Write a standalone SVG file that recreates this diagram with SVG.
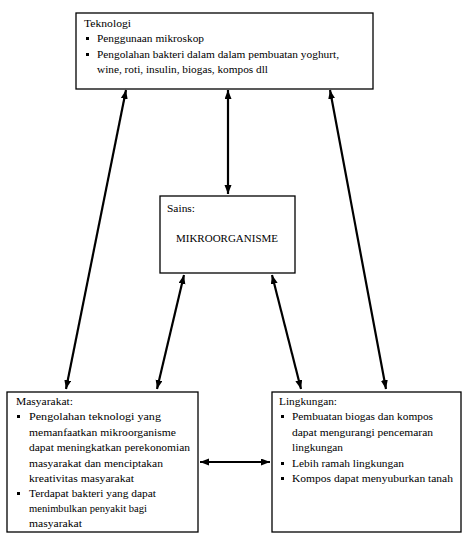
<svg xmlns="http://www.w3.org/2000/svg" width="473" height="552" viewBox="0 0 473 552">
<style>
.box{fill:#fff;stroke:#000;stroke-width:1.3}
text{font-family:"Liberation Serif","Times New Roman",serif;font-size:11px;fill:#000}
.c{stroke:#000;stroke-width:2.2;fill:none;marker-start:url(#ah);marker-end:url(#ah)}
.b{fill:#000}
</style>
<defs>
<marker id="ah" markerUnits="userSpaceOnUse" markerWidth="10" markerHeight="8" refX="9" refY="3.5" orient="auto-start-reverse">
<path d="M0,0 L9,3.5 L0,7 z" fill="#000"/>
</marker>
</defs>
<rect width="473" height="552" fill="#fff"/>
<g id="connectors">
<line class="c" x1="126" y1="90" x2="66" y2="389"/>
<line class="c" x1="228" y1="90" x2="228" y2="194"/>
<line class="c" x1="330" y1="90" x2="386" y2="389"/>
<line class="c" x1="184" y1="275" x2="157" y2="389"/>
<line class="c" x1="272" y1="275" x2="301" y2="389"/>
<line class="c" x1="200" y1="462" x2="270" y2="462"/>
</g>
<g id="teknologi">
<rect class="box" x="76" y="13" width="297" height="76"/>
<text x="84" y="27" textLength="47" lengthAdjust="spacingAndGlyphs">Teknologi</text>
<rect class="b" x="86" y="37" width="3" height="3"/>
<text x="97" y="42" textLength="107" lengthAdjust="spacingAndGlyphs">Penggunaan mikroskop</text>
<rect class="b" x="86" y="53" width="3" height="3"/>
<text x="97" y="58" textLength="242" lengthAdjust="spacingAndGlyphs">Pengolahan bakteri dalam dalam pembuatan yoghurt,</text>
<text x="97" y="73" textLength="171" lengthAdjust="spacingAndGlyphs">wine, roti, insulin, biogas, kompos dll</text>
</g>
<g id="sains">
<rect class="box" x="160" y="196" width="135" height="77"/>
<text x="167" y="212" textLength="28" lengthAdjust="spacingAndGlyphs">Sains:</text>
<text x="176" y="242" textLength="102" lengthAdjust="spacingAndGlyphs">MIKROORGANISME</text>
</g>
<g id="masyarakat">
<rect class="box" x="7" y="392" width="191" height="140"/>
<text x="16" y="405" textLength="57" lengthAdjust="spacingAndGlyphs">Masyarakat:</text>
<rect class="b" x="17" y="415" width="3" height="3"/>
<text x="29" y="420" textLength="132" lengthAdjust="spacingAndGlyphs">Pengolahan teknologi yang</text>
<text x="29" y="436" textLength="147" lengthAdjust="spacingAndGlyphs">memanfaatkan mikroorganisme</text>
<text x="29" y="451" textLength="161" lengthAdjust="spacingAndGlyphs">dapat meningkatkan perekonomian</text>
<text x="29" y="467" textLength="134" lengthAdjust="spacingAndGlyphs">masyarakat dan menciptakan</text>
<text x="29" y="482" textLength="105" lengthAdjust="spacingAndGlyphs">kreativitas masyarakat</text>
<rect class="b" x="17" y="492" width="3" height="3"/>
<text x="29" y="497" textLength="127" lengthAdjust="spacingAndGlyphs">Terdapat bakteri yang dapat</text>
<text x="29" y="512" textLength="118" lengthAdjust="spacingAndGlyphs">menimbulkan penyakit bagi</text>
<text x="29" y="527" textLength="53" lengthAdjust="spacingAndGlyphs">masyarakat</text>
</g>
<g id="lingkungan">
<rect class="box" x="272" y="392" width="189" height="140"/>
<text x="279" y="405" textLength="58" lengthAdjust="spacingAndGlyphs">Lingkungan:</text>
<rect class="b" x="281" y="415" width="3" height="3"/>
<text x="292" y="420" textLength="141" lengthAdjust="spacingAndGlyphs">Pembuatan biogas dan kompos</text>
<text x="292" y="436" textLength="141" lengthAdjust="spacingAndGlyphs">dapat mengurangi pencemaran</text>
<text x="292" y="451" textLength="51" lengthAdjust="spacingAndGlyphs">lingkungan</text>
<rect class="b" x="281" y="462" width="3" height="3"/>
<text x="292" y="467" textLength="112" lengthAdjust="spacingAndGlyphs">Lebih ramah lingkungan</text>
<rect class="b" x="281" y="477" width="3" height="3"/>
<text x="292" y="482" textLength="161" lengthAdjust="spacingAndGlyphs">Kompos dapat menyuburkan tanah</text>
</g>
</svg>
